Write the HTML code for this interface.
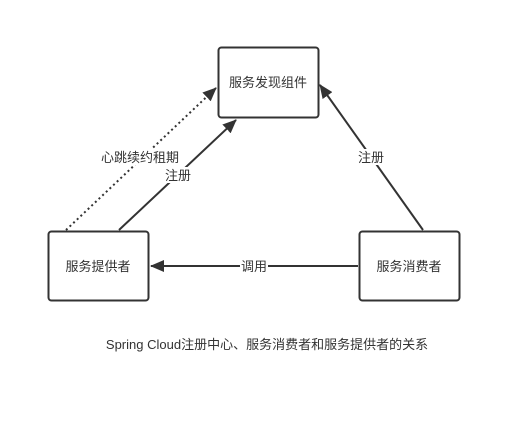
<!DOCTYPE html>
<html><head><meta charset="utf-8"><style>
body{margin:0;background:#fff;}
text{font-family:"Liberation Sans","Noto Sans CJK SC",sans-serif;fill:#333;}
</style></head><body>
<svg width="521" height="433" xmlns="http://www.w3.org/2000/svg">
<defs>
<marker id="a" markerWidth="14" markerHeight="12" refX="13" refY="6" orient="auto" markerUnits="userSpaceOnUse">
<path d="M0,0 L14,6 L0,12 Z" fill="#333"/></marker>
</defs>
<rect width="521" height="433" fill="#fff"/>
<g fill="#fff" stroke="#333" stroke-width="2">
<rect x="218.5" y="47.5" width="100" height="70" rx="3"/>
<rect x="48.5" y="231.5" width="100" height="69" rx="3"/>
<rect x="359.5" y="231.5" width="100" height="69" rx="3"/>
</g>
<g stroke="#333" stroke-width="2" fill="none">
<line x1="66" y1="230" x2="216" y2="88" stroke-dasharray="2,3" marker-end="url(#a)"/>
<line x1="119" y1="230" x2="236" y2="120" marker-end="url(#a)"/>
<line x1="423" y1="230" x2="320" y2="85" marker-end="url(#a)"/>
<line x1="358" y1="266" x2="151" y2="266" marker-end="url(#a)"/>
</g>
<rect x="240" y="258" width="28" height="16" fill="#fff"/>
<rect x="102" y="149" width="76" height="16" fill="#fff"/>
<rect x="163" y="167" width="30" height="16" fill="#fff"/>
<rect x="356" y="149" width="30" height="16" fill="#fff"/>
<g font-size="13" text-anchor="middle">
<text x="268" y="87">服务发现组件</text>
<text x="98" y="271">服务提供者</text>
<text x="409" y="271">服务消费者</text>
<text x="254" y="271">调用</text>
<text x="140" y="162">心跳续约租期</text>
<text x="178" y="180">注册</text>
<text x="371" y="162">注册</text>
<text x="267" y="349">Spring Cloud注册中心、服务消费者和服务提供者的关系</text>
</g>
</svg>
</body></html>
